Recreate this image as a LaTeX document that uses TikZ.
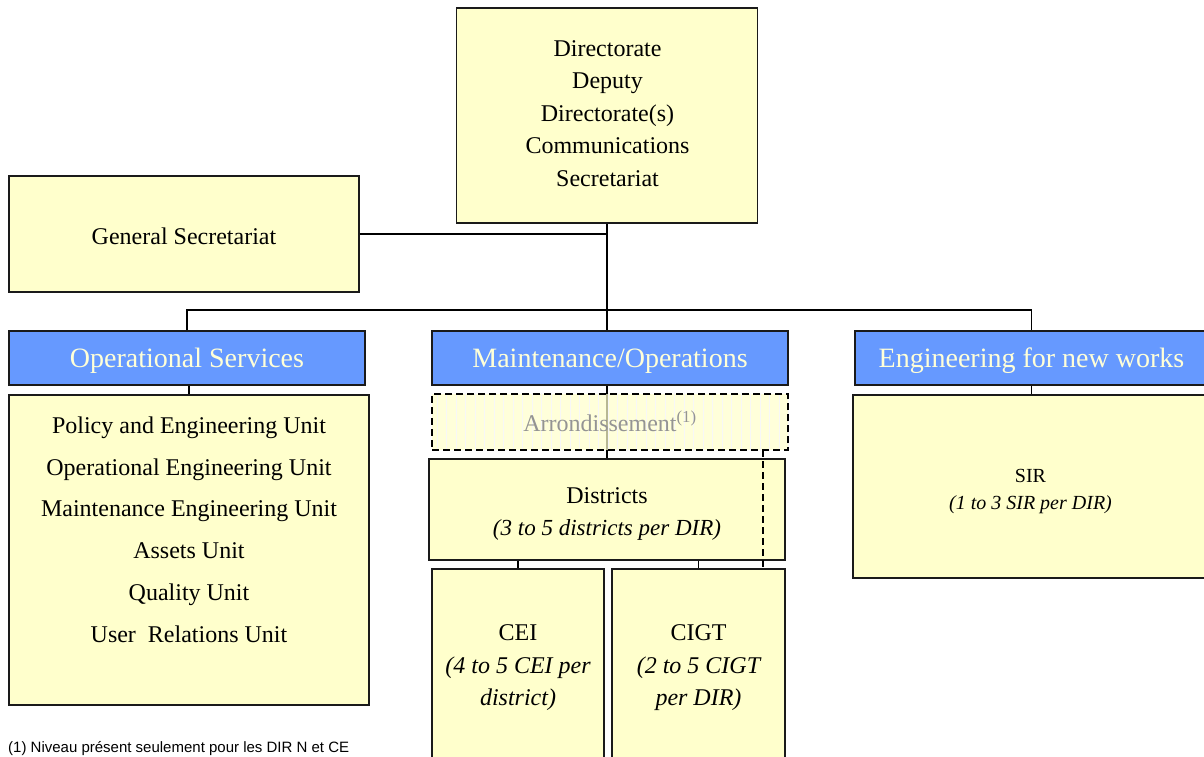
\documentclass[tikz,border=0pt]{standalone}
\usepackage{fontspec}
\setmainfont{Liberation Serif}
\newfontfamily\notefont{Liberation Sans}
\definecolor{boxyellow}{HTML}{FFFFCC}
\definecolor{headblue}{HTML}{6699FF}
\definecolor{headtext}{HTML}{FFFFD8}
\definecolor{framegray}{HTML}{1A1A1A}
\begin{document}
\begin{tikzpicture}[x=1pt,y=-1pt,
  box/.style={draw=framegray, line width=1.5pt, fill=boxyellow, inner sep=0pt},
  head/.style={draw=framegray, line width=1.5pt, fill=headblue, text=headtext,
    inner sep=0pt, minimum height=54, text depth=0pt, font=\fontsize{28}{32}\selectfont},
  txt/.style={align=center, inner sep=0pt},
  link/.style={line width=1.7pt, draw=black},
  dashlink/.style={line width=1.5pt, draw=black, dash pattern=on 7pt off 4pt},
]
\useasboundingbox (0,0) rectangle (1204,756);

% --- top level ---
\node[box, minimum width=301, minimum height=215] (top) at (607,115.5) {};
\node[txt, font=\fontsize{24}{32.5}\selectfont] (topT) at (607.5,113.5)
  {Directorate\\Deputy\\Directorate(s)\\Communications\\Secretariat};
\node[box, minimum width=350, minimum height=116] (gs) at (184,234) {};
\node[txt, font=\fontsize{24}{30}\selectfont] (gsT) at (184,236) {General Secretariat};

% --- service headers ---
\node[head, minimum width=356] (ops) at (187,358) {Operational Services};
\node[head, minimum width=356] (maint) at (610,358) {Maintenance/Operations};
\node[head, minimum width=353] (eng) at (1031.5,358) {Engineering for new works};

\coordinate (bus) at (607,310);
\draw[link] (gs.east) -- (gs.east -| top.south);
\draw[link] (top.south) -- (bus);
\draw[link] (ops.north) |- (bus) -| (eng.north);
\draw[link] (bus) -- (bus |- maint.north);

% --- operational services units ---
\node[box, minimum width=360, minimum height=310] (units) at (189,550) {};
\node[txt, font=\fontsize{24}{41.8}\selectfont] (unitsT) at (189,529.5)
  {Policy and Engineering Unit\\Operational Engineering Unit\\Maintenance Engineering Unit\\Assets Unit\\Quality Unit\\User\ \ Relations Unit};
\draw[link] (ops.south -| units.north) -- (units.north);

% --- maintenance / operations chain ---
\node[box, minimum width=356, minimum height=101] (dist) at (607,509.5) {};
\node[txt, font=\fontsize{24}{32}\selectfont] (distT) at (607,514)
  {Districts\\{\fontsize{23}{32}\selectfont\itshape (3 to 5 districts per DIR)}};
\draw[link] (dist.north |- maint.south) -- (dist.north);

% optional level, shown translucent
\node[draw=black, line width=1.5pt, dash pattern=on 7pt off 4pt,
      fill=boxyellow, fill opacity=0.72, minimum width=356, minimum height=56,
      inner sep=0pt] (arr) at (610,422) {};
\begin{scope}
  \clip (arr.north west) rectangle (arr.south east);
  \draw[draw=black!3, line width=0.4pt, step=9.5] (arr.north west) grid (arr.south east);
\end{scope}
\node[draw=black, line width=1.5pt, dash pattern=on 7pt off 4pt,
      minimum width=356, minimum height=56, inner sep=0pt] (arrF) at (arr) {};
\node[txt, text=black!42, font=\fontsize{24}{28}\selectfont] (arrT) at (610,421)
  {Arrondissement\textsuperscript{(1)}};

\node[box, minimum width=172, minimum height=201] (cei) at (518,669.5) {};
\node[txt, font=\fontsize{24}{32.5}\selectfont] (ceiT) at (518,668)
  {CEI\\\itshape (4 to 5 CEI per\\\itshape district)};
\node[box, minimum width=173, minimum height=201] (cigt) at (698.5,669.5) {};
\node[txt, font=\fontsize{24}{32.5}\selectfont] (cigtT) at (698.5,668)
  {CIGT\\\itshape (2 to 5 CIGT\\\itshape per DIR)};
\draw[link] (cei.north |- dist.south) -- (cei.north);
\draw[link] (cigt.north |- dist.south) -- (cigt.north);

\coordinate (arrLeg) at (763,450);
\draw[dashlink] (arrLeg) -- (arrLeg |- cigt.north);

% --- engineering for new works ---
\node[box, minimum width=355, minimum height=183] (sir) at (1030.5,486.5) {};
\node[txt, font=\fontsize{20}{27}\selectfont] (sirT) at (1030.5,491.5)
  {SIR\\\itshape (1 to 3 SIR per DIR)};
\draw[link] (eng.south) -- (eng.south |- sir.north);

% --- footnote ---
\node[anchor=base west, inner sep=0pt, font=\notefont\fontsize{15}{18}\selectfont] (note)
  at (8,752) {(1) Niveau présent seulement pour les DIR N et CE};
\end{tikzpicture}
\end{document}
